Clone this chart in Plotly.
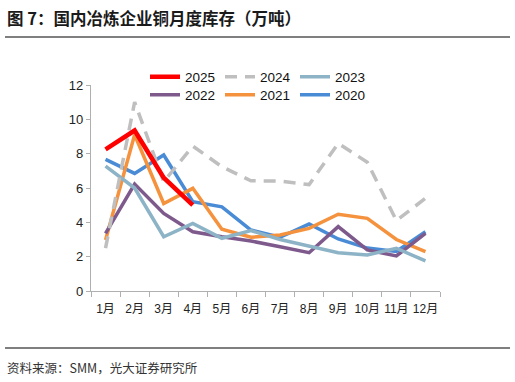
import plotly.graph_objects as go

months = ["1月", "2月", "3月", "4月", "5月", "6月", "7月", "8月", "9月", "10月", "11月", "12月"]
y2025 = [8.25, 9.35, 6.6, 5.0]
y2024 = [2.5, 11.0, 6.37, 8.44, 7.24, 6.42, 6.4, 6.2, 8.6, 7.5, 4.1, 5.4]
y2023 = [7.28, 6.0, 3.16, 3.94, 3.07, 3.52, 3.0, 2.6, 2.23, 2.1, 2.49, 1.75]
y2022 = [3.36, 6.23, 4.52, 3.45, 3.16, 2.91, 2.58, 2.23, 3.75, 2.39, 2.04, 3.36]
y2021 = [2.97, 9.1, 5.1, 5.98, 3.6, 3.13, 3.26, 3.65, 4.47, 4.23, 3.0, 2.29]
y2020 = [7.67, 6.85, 7.92, 5.2, 4.9, 3.55, 3.13, 3.9, 3.03, 2.5, 2.3, 3.45]

series = [
    ("2020", y2020, "#4a8bd6", None, 3.5, "legend2"),
    ("2021", y2021, "#f5923e", None, 3.5, "legend2"),
    ("2022", y2022, "#7e5a8c", None, 3.5, "legend2"),
    ("2023", y2023, "#8db3c7", None, 3.5, "legend"),
    ("2024", y2024, "#bfbfbf", "12px,8px", 3.5, "legend"),
    ("2025", y2025, "#ff0000", None, 4.5, "legend"),
]

fig = go.Figure()
for name, vals, color, dash, w, lg in series:
    fig.add_trace(go.Scatter(
        x=months[:len(vals)], y=vals, name=name, mode="lines",
        line=dict(color=color, width=w, dash=dash), legend=lg,
    ))

W, H = 515, 382
L, R, T, B = 91, 75, 85, 91
pw, ph = W - L - R, H - T - B

def px(xp):
    return (xp - L) / pw

def py(yp):
    return (H - B - yp) / ph

leg_common = dict(
    orientation="h", traceorder="reversed", xanchor="left", yanchor="middle",
    entrywidth=30, entrywidthmode="pixels",
    font=dict(size=13.5, color="#111", family="Liberation Sans, Arial"),
    bgcolor="rgba(0,0,0,0)", itemwidth=30,
)

fig.update_layout(
    width=W, height=H,
    margin=dict(l=L, r=R, t=T, b=B, autoexpand=False),
    paper_bgcolor="white", plot_bgcolor="white",
    font=dict(family="Liberation Sans, Arial, Noto Sans CJK SC", size=13, color="#222"),
    showlegend=True,
    legend=dict(x=px(145), y=py(77), **leg_common),
    legend2=dict(x=px(145), y=py(95), **leg_common),
    xaxis=dict(
        type="category", categoryorder="array", categoryarray=months,
        range=[-0.5, 11.5], tickangle=0, ticklabelstandoff=6,
        showline=True, linecolor="#b0b0b0", linewidth=1.3,
        ticks="outside", tickson="boundaries", ticklen=5, tickcolor="#b0b0b0",
        showgrid=False, zeroline=False,
        tickfont=dict(size=12, color="#222", family="Liberation Sans, Noto Sans CJK SC"),
    ),
    yaxis=dict(
        range=[0, 12], dtick=2,
        showline=True, linecolor="#b0b0b0", linewidth=1.3,
        ticks="outside", ticklen=4, tickcolor="#b0b0b0",
        showgrid=False, zeroline=False,
        tickfont=dict(size=13, color="#222"),
    ),
    shapes=[
        dict(type="line", xref="paper", yref="paper", x0=px(5), x1=px(510), y0=py(37), y1=py(37),
             line=dict(color="#555", width=1.5)),
        dict(type="line", xref="paper", yref="paper", x0=px(5), x1=px(510), y0=py(348), y1=py(348),
             line=dict(color="#555", width=1.5)),
    ],
    annotations=[
        dict(text="<b>图 7：国内冶炼企业铜月度库存（万吨）</b>", xref="paper", yref="paper",
             x=px(5), y=py(18), xanchor="left", yanchor="middle", showarrow=False,
             font=dict(size=16.5, color="#1a1a1a", family="Noto Sans CJK SC")),
        dict(text="资料来源：SMM，光大证券研究所", xref="paper", yref="paper",
             x=px(5), y=py(367), xanchor="left", yanchor="middle", showarrow=False,
             font=dict(size=12.5, color="#333", family="Noto Sans CJK SC")),
    ],
)

fig.write_html("out.html", config={"displayModeBar": False},
               post_script="document.body.style.margin='0';document.body.style.padding='0';")
